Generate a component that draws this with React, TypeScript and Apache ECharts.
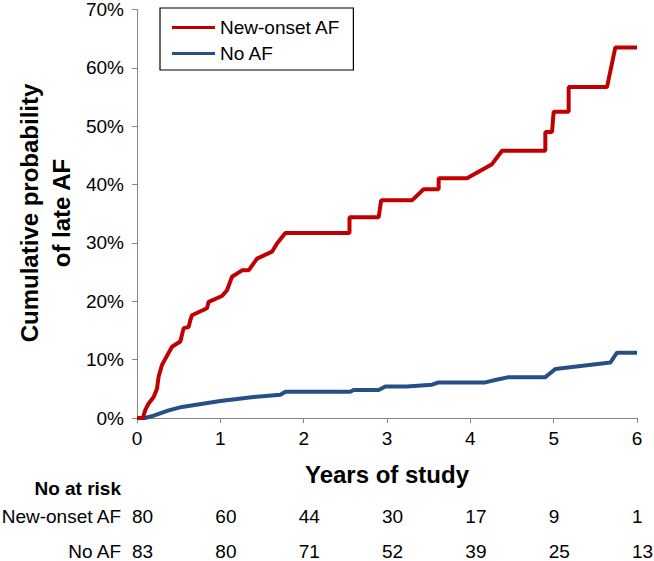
import React, { useEffect, useRef } from "react";
import * as echarts from "echarts";

const FONT = "'Liberation Sans', Arial, Helvetica, sans-serif";

const seriesNames = ["New-onset AF", "No AF"];

// [years, cumulative %]
const newOnsetAF: [number, number][] = [
  [0, 0], [0.07, 0], [0.1, 1.4], [0.14, 2.5], [0.2, 3.6], [0.24, 5.0], [0.26, 7.1],
  [0.3, 9.1], [0.42, 12.2], [0.52, 13.1], [0.56, 15.4], [0.62, 15.6], [0.64, 16.8],
  [0.66, 17.6], [0.84, 18.8], [0.86, 19.9], [1.02, 20.9], [1.08, 21.9], [1.14, 24.2],
  [1.26, 25.3], [1.34, 25.3], [1.44, 27.3], [1.62, 28.5], [1.68, 29.9], [1.78, 31.7],
  [2.55, 31.7], [2.55, 34.4], [2.9, 34.4], [2.93, 37.3], [3.3, 37.3], [3.44, 39.2],
  [3.62, 39.2], [3.62, 41.1], [3.96, 41.1], [4.26, 43.5], [4.38, 45.8], [4.9, 45.8],
  [4.9, 49.0], [4.98, 49.0], [5.0, 52.5], [5.18, 52.5], [5.18, 56.7], [5.64, 56.7],
  [5.74, 63.5], [6.0, 63.5],
];

const noAF: [number, number][] = [
  [0, 0], [0.1, 0], [0.2, 0.4], [0.38, 1.3], [0.54, 1.9], [1.0, 2.9], [1.4, 3.6],
  [1.72, 4.0], [1.78, 4.5], [2.56, 4.5], [2.6, 4.8], [2.9, 4.8], [2.98, 5.4],
  [3.24, 5.4], [3.54, 5.7], [3.62, 6.1], [4.18, 6.1], [4.3, 6.5], [4.46, 7.0],
  [4.9, 7.0], [5.02, 8.4], [5.68, 9.5], [5.76, 11.2], [6.0, 11.2],
];

const riskYears = [0, 1, 2, 3, 4, 5, 6];
const riskNewOnset = [80, 60, 44, 30, 17, 9, 1];
const riskNoAF = [83, 80, 71, 52, 39, 25, 13];

const colors = ["#C00000", "#264F86"];

export default function App() {
  const ref = useRef<HTMLDivElement>(null);

  useEffect(() => {
    if (!ref.current) return;
    const chart = echarts.init(ref.current, null, { renderer: "svg" });

    const gridLeft = 137;
    const gridTop = 8;
    const gridRight = 17;
    const gridBottom = 143;

    chart.setOption({
      animation: false,
      textStyle: { fontFamily: FONT },
      grid: { left: gridLeft, top: gridTop, right: gridRight, bottom: gridBottom, containLabel: false },
      legend: {
        orient: "vertical",
        left: 160,
        top: 8,
        data: seriesNames,
        icon: "rect",
        itemWidth: 43,
        itemHeight: 3,
        itemGap: 7,
        padding: [10, 13, 7, 12],
        borderColor: "#000",
        borderWidth: 1.2,
        textStyle: { fontSize: 19, color: "#000", fontFamily: FONT, padding: [0, 0, 0, 0] },
      },
      xAxis: {
        type: "value",
        min: 0,
        max: 6,
        interval: 1,
        name: "Years of study",
        nameLocation: "middle",
        nameGap: 44,
        nameTextStyle: { fontSize: 24, fontWeight: "bold", color: "#000", fontFamily: FONT },
        axisLine: { show: true, lineStyle: { color: "#868686", width: 1 } },
        axisTick: { show: true, length: 5, lineStyle: { color: "#868686" } },
        axisLabel: { fontSize: 19, color: "#000", margin: 11, fontFamily: FONT },
        splitLine: { show: false },
      },
      yAxis: {
        type: "value",
        min: 0,
        max: 70,
        interval: 10,
        axisLine: { show: true, lineStyle: { color: "#868686", width: 1 } },
        axisTick: { show: true, length: 5, lineStyle: { color: "#868686" } },
        axisLabel: { fontSize: 19, color: "#000", margin: 13, formatter: "{value}%", fontFamily: FONT },
        splitLine: { show: false },
      },
      series: [
        {
          name: seriesNames[0],
          type: "line",
          data: newOnsetAF,
          showSymbol: false,
          symbol: "none",
          lineStyle: { color: colors[0], width: 4 },
          itemStyle: { color: colors[0] },
          z: 3,
        },
        {
          name: seriesNames[1],
          type: "line",
          data: noAF,
          showSymbol: false,
          symbol: "none",
          lineStyle: { color: colors[1], width: 4 },
          itemStyle: { color: colors[1] },
          z: 2,
        },
      ],
    });

    const graphics: any[] = [
      {
        type: "text",
        x: 45,
        y: 213,
        rotation: Math.PI / 2,
        style: {
          text: "Cumulative probability\nof late AF",
          font: `bold 24px ${FONT}`,
          fill: "#000",
          textAlign: "center",
          textVerticalAlign: "middle",
          lineHeight: 32,
        },
      },
      {
        type: "text",
        x: 121,
        y: 488,
        style: { text: "No at risk", font: `bold 19px ${FONT}`, fill: "#000", textAlign: "right", textVerticalAlign: "middle" },
      },
      {
        type: "text",
        x: 121,
        y: 516,
        style: { text: seriesNames[0], font: `19px ${FONT}`, fill: "#000", textAlign: "right", textVerticalAlign: "middle" },
      },
      {
        type: "text",
        x: 121,
        y: 551,
        style: { text: seriesNames[1], font: `19px ${FONT}`, fill: "#000", textAlign: "right", textVerticalAlign: "middle" },
      },
    ];

    riskYears.forEach((yr, i) => {
      const px = chart.convertToPixel({ xAxisIndex: 0 }, yr) as number;
      graphics.push({
        type: "text",
        x: px - 5,
        y: 516,
        style: { text: String(riskNewOnset[i]), font: `19px ${FONT}`, fill: "#000", textAlign: "left", textVerticalAlign: "middle" },
      });
      graphics.push({
        type: "text",
        x: px - 5,
        y: 551,
        style: { text: String(riskNoAF[i]), font: `19px ${FONT}`, fill: "#000", textAlign: "left", textVerticalAlign: "middle" },
      });
    });

    chart.setOption({ graphic: graphics });

    return () => chart.dispose();
  }, []);

  return (
    <div
      ref={ref}
      style={{ position: "fixed", left: 0, top: 0, width: 654, height: 561, background: "#fff" }}
    />
  );
}
